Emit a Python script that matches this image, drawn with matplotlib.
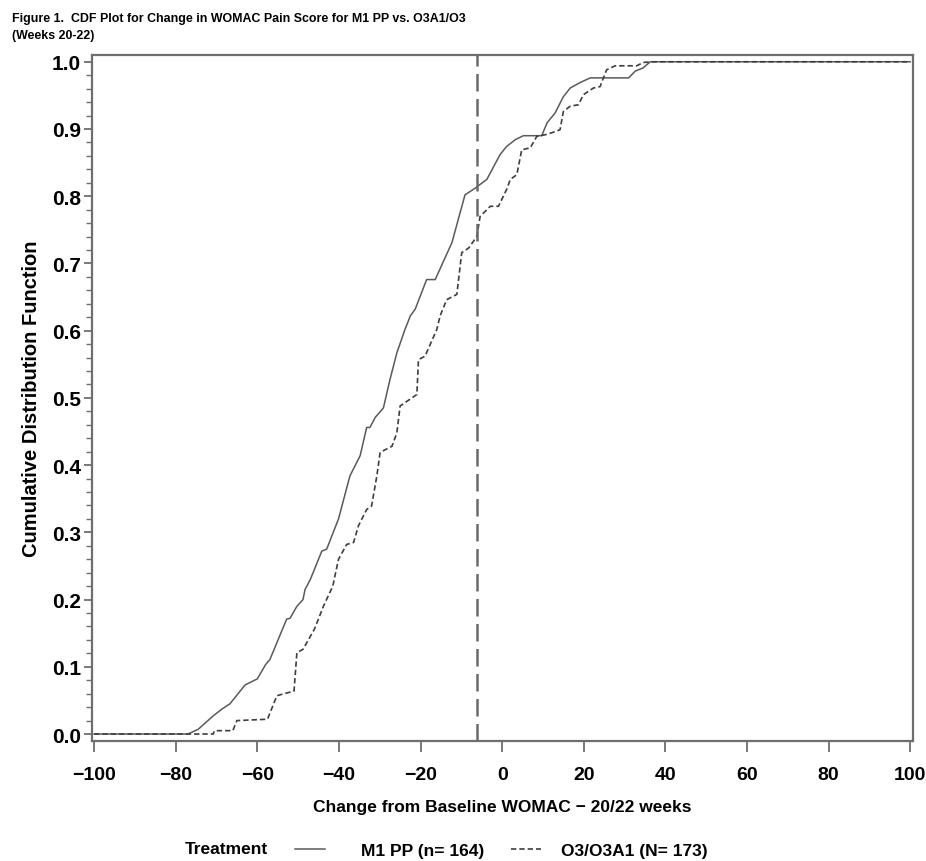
import matplotlib
matplotlib.use("Agg")
import matplotlib.pyplot as plt
from matplotlib.lines import Line2D
from matplotlib.ticker import MultipleLocator

m1_x = [-100, -77, -74.5, -70.8, -68.7, -66.7, -63, -60, -58, -56.9, -52.8, -52,
        -50.3, -48.8, -48.3, -47, -44.2, -43, -40.1, -37.3, -34.8, -33.2, -32.4,
        -31.1, -29.1, -27.5, -25.8, -23.8, -22.5, -21.3, -18.5, -16.4, -12.3, -9.1,
        -6.6, -3.75, -0.5, 1.1, 3.2, 5.2, 9.7, 11, 13, 15, 16.7, 19.1, 21.6, 31,
        32.6, 34.6, 36.3, 100]
m1_y = [0, 0, 0.007, 0.027, 0.037, 0.045, 0.073, 0.082, 0.103, 0.111, 0.171, 0.172,
        0.19, 0.2, 0.215, 0.23, 0.272, 0.275, 0.32, 0.384, 0.414, 0.456, 0.456,
        0.471, 0.485, 0.527, 0.567, 0.602, 0.622, 0.632, 0.676, 0.676, 0.731, 0.802,
        0.812, 0.825, 0.862, 0.874, 0.884, 0.89, 0.89, 0.909, 0.924, 0.948, 0.961,
        0.969, 0.976, 0.976, 0.986, 0.991, 1.0, 1.0]

o3_x = [-100, -70.8, -70.5, -66, -65, -57.5, -55.2, -51, -50.3, -48.8, -46, -43.8,
        -41.5, -40.1, -38.1, -36.4, -35.2, -33.2, -32, -30.7, -29.9, -27, -25.8, -25,
        -20.9, -20.5, -18.9, -16, -15.2, -13.6, -11.1, -9.9, -8.2, -6.2, -5.4, -2.9,
        -0.9, 1.1, 2, 3.6, 4.8, 6.9, 8.5, 11, 13.4, 14.2, 15, 16.7, 18.7, 19.9, 22.4,
        24, 25.6, 27.7, 33, 34.6, 37.5, 100]
o3_y = [0, 0, 0.005, 0.005, 0.02, 0.022, 0.057, 0.064, 0.121, 0.126, 0.156, 0.19,
        0.22, 0.26, 0.282, 0.285, 0.31, 0.334, 0.339, 0.384, 0.419, 0.428, 0.448, 0.488,
        0.505, 0.557, 0.562, 0.602, 0.622, 0.646, 0.654, 0.716, 0.723, 0.74, 0.77, 0.785,
        0.785, 0.81, 0.825, 0.832, 0.869, 0.872, 0.889, 0.892, 0.897, 0.899, 0.926,
        0.934, 0.936, 0.951, 0.961, 0.963, 0.988, 0.994, 0.994, 0.999, 1.0, 1.0]

ref_x = -6.2
x_ticks = [-100, -80, -60, -40, -20, 0, 20, 40, 60, 80, 100]
y_ticks = [0.0, 0.1, 0.2, 0.3, 0.4, 0.5, 0.6, 0.7, 0.8, 0.9, 1.0]
labels = ["M1 PP (n= 164)", "O3/O3A1 (N= 173)"]

# ---- styling ----
plt.rcParams["font.family"] = ["Liberation Sans", "DejaVu Sans"]
grey_ax = "#6e6e6e"
m1_color = "#5a5a5a"
o3_color = "#3e3e3e"
dash_style = (0, (3.2, 1.8))

fig = plt.figure(figsize=(9.26, 8.62), dpi=100)
ax = fig.add_axes([0.0994, 0.1395, 0.8866, 0.7955])

ax.plot(m1_x, m1_y, color=m1_color, lw=1.1)
ax.plot(o3_x, o3_y, color=o3_color, lw=1.2, linestyle=dash_style)
ax.axvline(ref_x, color="#6a6a6a", lw=1.8, linestyle=(0, (7, 3)))

ax.set_xlim(-100.5, 100.7)
ax.set_ylim(-0.01, 1.01)
ax.set_xticks(x_ticks)
ax.set_xticklabels([f"\u2212{abs(v)}" if v < 0 else str(v) for v in x_ticks])
ax.set_yticks(y_ticks)
ax.set_yticklabels([f"{v:.1f}" for v in y_ticks])
ax.yaxis.set_minor_locator(MultipleLocator(0.02))

for s in ax.spines.values():
    s.set_color(grey_ax)
    s.set_linewidth(1.6)

ax.tick_params(axis="x", which="major", length=8, width=1.3, color=grey_ax,
               labelsize=14, pad=10)
ax.tick_params(axis="y", which="major", length=6, width=1.3, color=grey_ax,
               labelsize=15, pad=2)
ax.tick_params(axis="y", which="minor", length=4, width=1.0, color=grey_ax)
for lab in ax.get_xticklabels() + ax.get_yticklabels():
    lab.set_fontweight("bold")

ax.set_xlabel("Change from Baseline WOMAC \u2212 20/22 weeks", fontsize=12.5,
              fontweight="bold", labelpad=12)
ax.set_ylabel("Cumulative Distribution Function", fontsize=14.5,
              fontweight="bold", labelpad=8)

fig.text(0.013, 0.985, "Figure 1.  CDF Plot for Change in WOMAC Pain Score for M1 PP vs. O3A1/O3",
         fontsize=8.9, fontweight="bold", va="top", ha="left")
fig.text(0.013, 0.965, "(Weeks 20-22)", fontsize=8.9, fontweight="bold",
         va="top", ha="left")

fig.text(0.200, 0.006, "Treatment", fontsize=12.5, fontweight="bold",
         va="bottom", ha="left")
leg_props = {"size": 12.5, "weight": "bold"}
h1 = Line2D([], [], color=m1_color, lw=1.1)
h2 = Line2D([], [], color=o3_color, lw=1.2, linestyle=dash_style)
fig.legend([h1], [labels[0]], frameon=False, loc="lower left",
           bbox_to_anchor=(0.302, -0.015), prop=leg_props,
           handlelength=1.7, handletextpad=2.1)
fig.legend([h2], [labels[1]], frameon=False, loc="lower left",
           bbox_to_anchor=(0.535, -0.015), prop=leg_props,
           handlelength=1.7, handletextpad=1.15)

fig.savefig("out.png", dpi=100)
